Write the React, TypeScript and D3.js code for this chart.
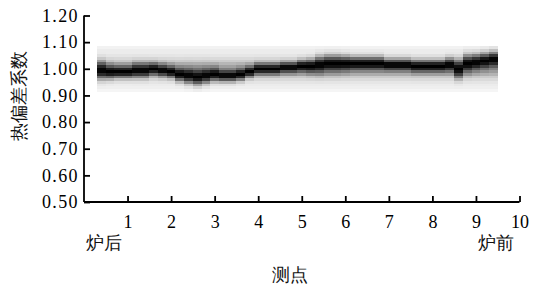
import React, { useEffect, useRef } from "react";
import * as d3 from "d3";

const columnX = [0.4, 0.6, 0.8, 1.0, 1.2, 1.4, 1.6, 1.8, 2.0, 2.2, 2.4, 2.6, 2.8, 3.0, 3.2, 3.4, 3.6, 3.8,
  4.0, 4.2, 4.4, 4.6, 4.8, 5.0, 5.2, 5.4, 5.6, 5.8, 6.0, 6.2, 6.4, 6.6, 6.8, 7.0, 7.2, 7.4, 7.6, 7.8,
  8.0, 8.2, 8.4, 8.6, 8.8, 9.0, 9.2, 9.4];
const centerValues = [0.995, 0.99, 0.99, 0.99, 0.995, 0.995, 1.0, 0.995, 0.99, 0.98, 0.975, 0.97, 0.975, 0.98,
  0.975, 0.975, 0.98, 0.99, 1.0, 1.0, 1.0, 1.005, 1.005, 1.01, 1.01, 1.015, 1.02, 1.02, 1.02, 1.02, 1.02,
  1.02, 1.02, 1.015, 1.015, 1.015, 1.01, 1.01, 1.01, 1.01, 1.015, 1.0, 1.02, 1.025, 1.03, 1.035];
// thickness of the dark core per column
const spreadValues = [0.03, 0.025, 0.022, 0.022, 0.025, 0.025, 0.022, 0.022, 0.022, 0.025, 0.028, 0.03, 0.028,
  0.025, 0.022, 0.022, 0.022, 0.02, 0.02, 0.02, 0.02, 0.02, 0.02, 0.022, 0.025, 0.03, 0.03, 0.03,
  0.028, 0.025, 0.025, 0.025, 0.025, 0.022, 0.022, 0.022, 0.022, 0.022, 0.022, 0.022, 0.025, 0.032, 0.032,
  0.03, 0.03, 0.03];
// light halo by row
const haloRows = [0.92, 0.93, 0.94, 0.95, 0.96, 0.97, 0.98, 0.99, 1.0, 1.01, 1.02, 1.03, 1.04, 1.05, 1.06, 1.07, 1.08];
const haloLevels = [0.08, 0.12, 0.14, 0.18, 0.24, 0.3, 0.38, 0.42, 0.42, 0.42, 0.38, 0.3, 0.24, 0.18, 0.14, 0.14, 0.1];

const yTicks = [0.5, 0.6, 0.7, 0.8, 0.9, 1.0, 1.1, 1.2];
const xTicks = [1, 2, 3, 4, 5, 6, 7, 8, 9, 10];

const W = 537, H = 288;
const serif = "Liberation Serif";

export default function App() {
  const ref = useRef<SVGSVGElement>(null);

  useEffect(() => {
    const svg = d3.select(ref.current);
    svg.selectAll("*").remove();

    const x = d3.scaleLinear().domain([0, 10]).range([84, 519.5]);
    const y = d3.scaleLinear().domain([0.5, 1.2]).range([202, 15.5]);

    const cells: { cx: number; ry: number; a: number }[] = [];
    columnX.forEach((cx, i) => {
      haloRows.forEach((ry, j) => {
        const d = (ry - centerValues[i]) / spreadValues[i];
        const core = Math.exp(-d * d);
        const a = 1 - (1 - core) * (1 - haloLevels[j]);
        cells.push({ cx, ry, a });
      });
    });

    const colW = x(0.2) - x(0);
    const rowH = y(0.99) - y(1.0);
    svg.append("g")
      .selectAll("rect")
      .data(cells)
      .enter()
      .append("rect")
      .attr("x", d => x(d.cx) - colW / 2)
      .attr("y", d => y(d.ry) - rowH / 2)
      .attr("width", colW + 0.3)
      .attr("height", rowH + 0.3)
      .attr("fill", d => d3.interpolateGreys(d.a))
      .attr("shape-rendering", "crispEdges");

    // y axis
    const yAxis = svg.append("g").attr("transform", `translate(${x(0)},0)`)
      .call(d3.axisLeft(y).tickValues(yTicks).tickSize(-6).tickPadding(5).tickFormat(d3.format(".2f")));
    yAxis.attr("font-family", null);
    yAxis.selectAll("text").style("font-family", serif).style("font-size", "18px")
      .style("letter-spacing", "1.4px").attr("fill", "#000");

    const xAxis = svg.append("g").attr("transform", `translate(0,${y(0.5)})`)
      .call(d3.axisBottom(x).tickValues(xTicks).tickSize(-6).tickPadding(13));
    xAxis.attr("font-family", null);
    xAxis.selectAll("text").style("font-family", serif).style("font-size", "18px").attr("fill", "#000");

    svg.selectAll(".domain").attr("stroke", "#000").attr("stroke-width", 1.8);
    svg.selectAll(".tick line").attr("stroke", "#000").attr("stroke-width", 1.8);
    // the reference has no outer tick caps on the domain
    yAxis.select(".domain").attr("d", `M0,${y(1.2)}V${y(0.5)}`);
    xAxis.select(".domain").attr("d", `M${x(0)},0H${x(10)}`);

    // chinese labels use the serif (song-style) fallback
    const label = (t: string, px: number, py: number, rot = 0) =>
      svg.append("text")
        .attr("transform", `translate(${px},${py}) rotate(${rot})`)
        .attr("text-anchor", "middle")
        .style("font-family", serif).style("font-size", "18px")
        .attr("fill", "#111")
        .text(t);
    label("炉后", 104, 249);
    label("炉前", 496, 249);
    label("测点", 290, 281);
    label("热偏差系数", 25, 96, -90);
  }, []);

  return (
    <div style={{ position: "absolute", left: 0, top: 0 }}>
      <svg ref={ref} width={W} height={H} style={{ background: "#fff", display: "block" }} />
    </div>
  );
}
